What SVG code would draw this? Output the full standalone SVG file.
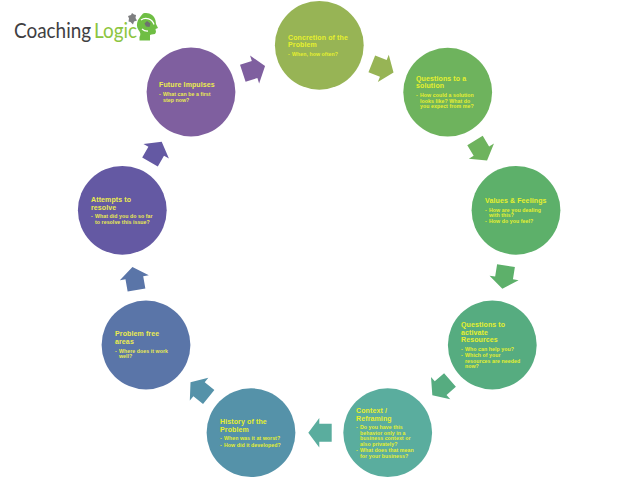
<svg xmlns="http://www.w3.org/2000/svg" width="638" height="479" viewBox="0 0 638 479">
<style>
text{font-family:"Liberation Sans",Arial,sans-serif}
.t{font-size:7px;font-weight:bold;fill:#e6f02e;letter-spacing:.12px}
.b{font-size:5.2px;font-weight:bold;fill:#e6f02e;letter-spacing:.08px}
.w{fill:#ecec50}
.l{font-size:21.500px}
</style>
<defs>
<polygon id="arrow" points="0,-9 12.4,-9 12.4,-14.7 23.4,0 12.4,14.7 12.4,9 0,9"/>
</defs>
<rect width="638" height="479" fill="#fff"/>
<g id="logo">
<text class="l" transform="translate(14 38) scale(.88 1)" style="font-family:Lato,sans-serif" fill="#3f4042">Coaching</text>
<text class="l" transform="translate(94 38) scale(.88 1)" style="font-family:Lato,sans-serif" fill="#8cc540">Logic</text>
<path d="M143 13.500c6-1.500 11 1.500 12.500 7l.5 3.500 2 4-2.500 1 .5 3-1 2-3.500.5-1.500.5v5.500h-10.500v-3.500c1.500-2 1-5-1-7-2-3-2-6-.5-10l2.500-3.500z" fill="#6fbe44"/>
<path d="M128 16l3-1 1-2 2 1.500 2 .5-.5 3 1.500 2.500-3 1-1 3-2.500-2.500-2-.5.5-3z" fill="#7d7e80"/>
<path d="M141 20a8.500 8.500 0 0 1 13 4.500M142 29a8 8 0 0 0 6 2" fill="none" stroke="#fff" stroke-width="1.300"/>
<path d="M147 21l3.500 2.500-1 3.500-3.500-.5-1.500-3z" fill="#6d7170"/>
</g>
<g id="connectors">
<use href="#arrow" transform="translate(371.8 63.8) rotate(21.8)" fill="#97b455"/>
<use href="#arrow" transform="translate(475 140.5) rotate(59)" fill="#6eb35d"/>
<use href="#arrow" transform="translate(506 265.7) rotate(99)" fill="#5db06a"/>
<use href="#arrow" transform="translate(450 380) rotate(139)" fill="#56ac80"/>
<use href="#arrow" transform="translate(331.7 432.7) rotate(180)" fill="#5aad9e"/>
<use href="#arrow" transform="translate(208.7 397) rotate(219)" fill="#5592a9"/>
<use href="#arrow" transform="translate(136.5 290) rotate(260)" fill="#5a75a8"/>
<use href="#arrow" transform="translate(150 162) rotate(-60)" fill="#6459a3"/>
<use href="#arrow" transform="translate(242.8 73.3) rotate(-18)" fill="#7f5f9f"/>
</g>
<g id="n1"><circle cx="319.3" cy="45.3" r="44.4" fill="#97b455"/>
<text class="t" x="288" y="40">Concretion of the</text><text class="t" x="288" y="47">Problem</text>
<text class="b" x="288" y="56">-<tspan x="292">When, how often?</tspan></text></g>
<g id="n2"><circle cx="447.7" cy="92.2" r="44.4" fill="#6eb35d"/>
<text class="t" x="416" y="81">Questions to a</text><text class="t" x="416" y="88">solution</text>
<text class="b" x="416" y="97">-<tspan x="420">How could a solution</tspan></text><text class="b" x="420" y="102.500">looks like? What do</text><text class="b" x="420" y="108">you expect from me?</text></g>
<g id="n3"><circle cx="516" cy="210.3" r="44.4" fill="#5db06a"/>
<text class="t" x="485" y="203">Values &amp; Feelings</text>
<text class="b" x="485" y="211.500">-<tspan x="489">How are you dealing</tspan></text><text class="b" x="489" y="217">with this?</text><text class="b" x="485" y="223">-<tspan x="489">How do you feel?</tspan></text></g>
<g id="n4"><circle cx="492.3" cy="345" r="44.4" fill="#56ac80"/>
<text class="t" x="461" y="327">Questions to</text><text class="t" x="461" y="335">activate</text><text class="t" x="461" y="342">Resources</text>
<text class="b" x="461" y="351">-<tspan x="465">Who can help you?</tspan></text><text class="b" x="461" y="357">-<tspan x="465">Which of your</tspan></text><text class="b" x="465" y="363">resources are needed</text><text class="b" x="465" y="368">now?</text></g>
<g id="n5"><circle cx="387.7" cy="432.7" r="44.4" fill="#5aad9e"/>
<text class="t" x="356" y="413">Context /</text><text class="t" x="356" y="421">Reframing</text>
<text class="b" x="356" y="429">-<tspan x="360">Do you have this</tspan></text><text class="b" x="360" y="434.500">behavior only in a</text><text class="b" x="360" y="440">business context or</text><text class="b" x="360" y="446">also privately?</text><text class="b" x="356" y="452">-<tspan x="360">What does that mean</tspan></text><text class="b" x="360" y="457.500">for your business?</text></g>
<g id="n6"><circle cx="251" cy="432.7" r="44.4" fill="#5592a9"/>
<text class="t" x="220" y="424">History of the</text><text class="t" x="220" y="432">Problem</text>
<text class="b" x="220" y="440">-<tspan x="224">When was it at worst?</tspan></text><text class="b" x="220" y="447">-<tspan x="224">How did it developed?</tspan></text></g>
<g id="n7"><circle cx="146" cy="345" r="44.4" fill="#5a75a8"/>
<text class="t w" x="115" y="336">Problem free</text><text class="t w" x="115" y="344">areas</text>
<text class="b w" x="115" y="353">-<tspan x="119">Where does it work</tspan></text><text class="b w" x="119" y="358">well?</text></g>
<g id="n8"><circle cx="122.300" cy="210.300" r="44.4" fill="#6459a3"/>
<text class="t w" x="91" y="202">Attempts to</text><text class="t w" x="91" y="210">resolve</text>
<text class="b w" x="91" y="218">-<tspan x="95">What did you do so far</tspan></text><text class="b w" x="95" y="224">to resolve this issue?</text></g>
<g id="n9"><circle cx="191" cy="92" r="44.4" fill="#7f5f9f"/>
<text class="t w" x="159" y="87">Future Impulses</text>
<text class="b w" x="159" y="96">-<tspan x="163">What can be a first</tspan></text><text class="b w" x="163" y="102">step now?</text></g>
</svg>
